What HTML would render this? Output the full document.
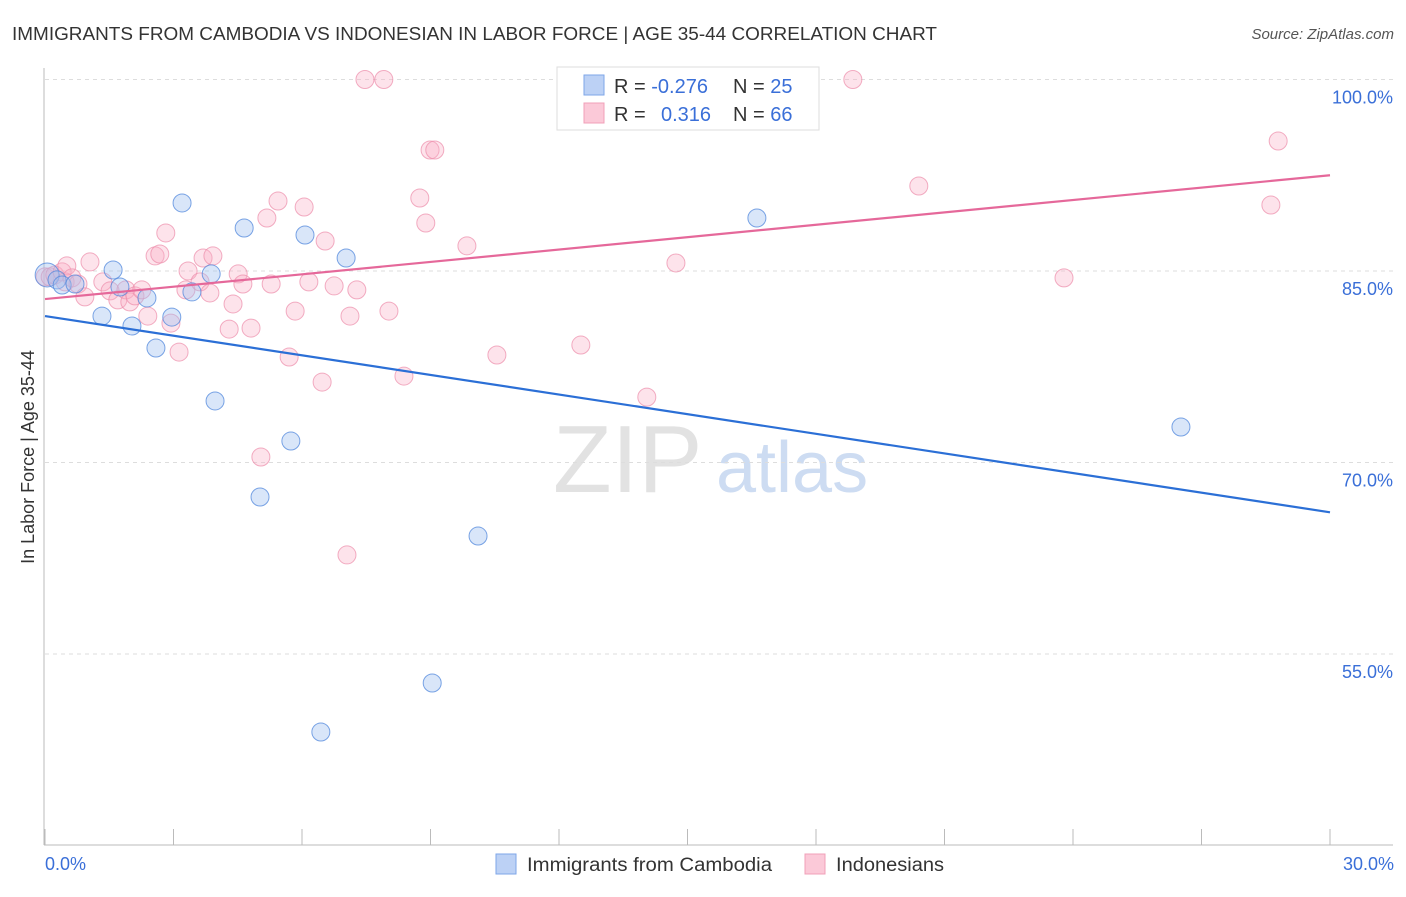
<!DOCTYPE html>
<html><head><meta charset="utf-8"><style>
body{margin:0;background:#fff;font-family:"Liberation Sans",sans-serif}
svg text{font-family:"Liberation Sans",sans-serif}
</style></head><body>
<svg id="c" width="1406" height="892">
<text x="12" y="40" font-size="18" fill="#333" textLength="925" lengthAdjust="spacingAndGlyphs">IMMIGRANTS FROM CAMBODIA VS INDONESIAN IN LABOR FORCE | AGE 35-44 CORRELATION CHART</text>
<text x="1394" y="39" font-size="15" fill="#555" font-style="italic" text-anchor="end">Source: ZipAtlas.com</text>
<g>
<text x="553" y="492" font-size="96" font-family="Liberation Serif" fill="#e2e2e2">ZIP</text>
<text x="716" y="492" font-size="72" fill="#cddcf2">atlas</text>
</g>
<g id="grid"></g>
<g id="axes"></g>
<g id="marks"></g>
<text transform="translate(34,457) rotate(-90)" font-size="18" fill="#333" text-anchor="middle">In Labor Force | Age 35-44</text>
<text x="45" y="870" font-size="18" fill="#3a6fd8">0.0%</text>
<text x="1394" y="870" font-size="18" fill="#3a6fd8" text-anchor="end">30.0%</text>
<g>
<rect x="557" y="67" width="262" height="63" fill="#fff" stroke="#ddd"/>
<rect x="584" y="75" width="20" height="20" fill="#bcd1f5" stroke="#7ea6e8"/>
<rect x="584" y="103" width="20" height="20" fill="#fbc9d8" stroke="#f0a0b8"/>
<text x="614" y="93" font-size="20" fill="#333">R = <tspan fill="#3a6fd8">-0.276</tspan></text>
<text x="733" y="93" font-size="20" fill="#333">N = <tspan fill="#3a6fd8">25</tspan></text>
<text x="614" y="121" font-size="20" fill="#333">R = <tspan fill="#3a6fd8" x="661">0.316</tspan></text>
<text x="733" y="121" font-size="20" fill="#333">N = <tspan fill="#3a6fd8">66</tspan></text>
</g>
<g>
<rect x="496" y="854" width="20" height="20" fill="#bcd1f5" stroke="#7ea6e8"/>
<text x="527" y="871" font-size="19" fill="#333" textLength="245" lengthAdjust="spacingAndGlyphs">Immigrants from Cambodia</text>
<rect x="805" y="854" width="20" height="20" fill="#fbc9d8" stroke="#f0a0b8"/>
<text x="836" y="871" font-size="19" fill="#333" textLength="108" lengthAdjust="spacingAndGlyphs">Indonesians</text>
</g>
</svg>
<script>
const yTicks=[100,85,70,55];
const yTickLabels=["100.0%","85.0%","70.0%","55.0%"];
const xTicks=[0,3,6,9,12,15,18,21,24,27,30];
const blueX=[0.05,0.28,0.40,0.70,1.33,1.59,1.75,2.03,2.38,2.59,2.96,3.20,3.43,3.88,3.97,4.65,5.02,5.74,6.07,6.44,7.03,9.04,10.11,16.62,26.52];
const blueY=[84.69,84.30,83.90,83.98,81.47,85.08,83.75,80.69,82.89,78.97,81.39,90.33,83.36,84.77,74.82,88.37,67.30,71.68,87.82,48.89,86.02,52.73,64.24,89.15,72.78];
const pinkX=[0,0.12,0.23,0.40,0.47,0.51,0.63,0.77,0.93,1.05,1.35,1.52,1.70,1.89,1.98,2.10,2.26,2.40,2.57,2.68,2.82,2.94,3.13,3.34,3.29,3.62,3.69,3.85,3.92,4.30,4.39,4.51,4.62,4.81,5.04,5.18,5.28,5.44,5.70,5.84,6.05,6.16,6.47,6.54,6.75,7.05,7.12,7.28,7.47,7.91,8.03,8.38,8.75,8.89,8.99,9.10,9.85,10.55,12.51,14.05,14.73,18.86,20.40,23.79,28.62,28.79];
const pinkY=[84.54,84.54,84.69,84.93,84.15,85.40,84.46,83.98,82.97,85.71,84.15,83.44,82.74,83.52,82.58,83.05,83.52,81.47,86.18,86.33,87.98,80.92,78.65,85.00,83.52,84.15,86.02,83.28,86.18,80.45,82.42,84.77,83.98,80.53,70.43,89.15,83.98,90.48,78.26,81.86,90.01,84.15,76.30,87.35,83.83,62.76,81.47,83.52,100,100,81.86,76.77,90.72,88.76,94.48,94.48,86.97,78.42,79.20,75.12,85.63,100,91.66,84.46,90.17,95.18];
const blueTrend=[81.47,66.1];
const pinkTrend=[82.8,92.5];
const NS="http://www.w3.org/2000/svg";
const X0=45,X1=1330,Y100=79.5,PPU=191.5/15;
function sx(v){return X0+(v/30)*(X1-X0);}
function sy(v){return Y100+(100-v)*PPU;}
function mk(tag,attrs,parent){const e=document.createElementNS(NS,tag);for(const k in attrs)e.setAttribute(k,attrs[k]);parent.appendChild(e);return e;}
const grid=document.getElementById('grid'),axes=document.getElementById('axes'),marks=document.getElementById('marks');
yTicks.forEach((t,i)=>{
 const l=mk('line',{x1:45,x2:1393,y1:sy(t),y2:sy(t),stroke:'#ddd','stroke-dasharray':'4,4'},grid);
 
 
 const tx=mk('text',{x:1393,y:sy(t)+24,'font-size':18,fill:'#3a6fd8','text-anchor':'end'},grid);
 tx.textContent=yTickLabels[i];
 
 
});
const ya=mk('line',{x1:44,x2:44,y1:68,y2:845,stroke:'#bbb'},axes);


const xa=mk('line',{x1:44,x2:1393,y1:845,y2:845,stroke:'#bbb'},axes);


xTicks.forEach(t=>{
 const l=mk('line',{x1:sx(t),x2:sx(t),y1:829,y2:845,stroke:'#bbb'},axes);
 
 
});
function pts(xs,ys,fill,stroke,name){
 xs.forEach((x,i)=>{
  const c=mk('circle',{cx:sx(x),cy:sy(ys[i]),r:(i===0&&name==='blue-point')?12:9,fill:fill,stroke:stroke,'stroke-width':1},marks);
  
  
 });
}
pts(pinkX,pinkY,'rgba(248,175,198,0.35)','rgba(236,140,170,0.7)','pink-point');
pts(blueX,blueY,'rgba(160,192,240,0.4)','rgba(80,135,220,0.75)','blue-point');
const bt=mk('line',{x1:sx(0),x2:sx(30),y1:sy(blueTrend[0]),y2:sy(blueTrend[1]),stroke:'#2b6fd6','stroke-width':2.2},marks);


const pt=mk('line',{x1:sx(0),x2:sx(30),y1:sy(pinkTrend[0]),y2:sy(pinkTrend[1]),stroke:'#e5689a','stroke-width':2.2},marks);


</script>
</body></html>
